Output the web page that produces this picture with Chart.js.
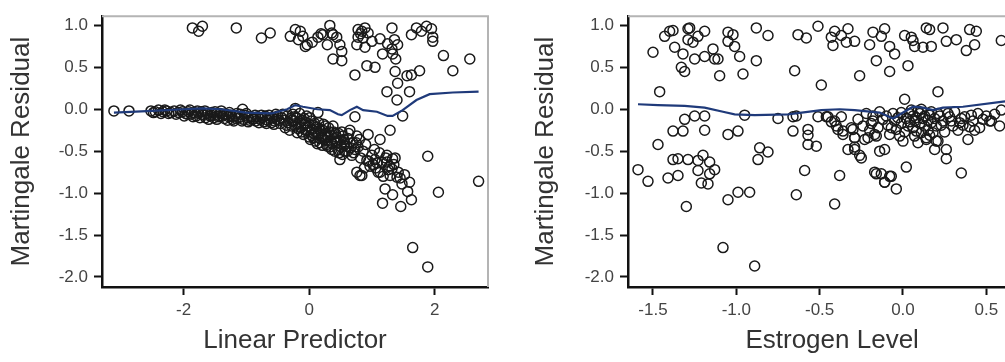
<!DOCTYPE html>
<html>
<head>
<meta charset="utf-8">
<script src="https://cdn.jsdelivr.net/npm/chart.js@4/dist/chart.umd.min.js"></script>
<style>
  html, body { margin: 0; padding: 0; background: #fff; overflow: hidden; width: 1005px; height: 362px; }
  .panel { position: absolute; top: 0; height: 362px; }
  #panelL { left: 0; width: 500px; }
  #panelR { left: 500px; width: 560px; }
</style>
</head>
<body>
<div class="panel" id="panelL"><canvas id="chartL" width="500" height="362"></canvas></div>
<div class="panel" id="panelR"><canvas id="chartR" width="560" height="362"></canvas></div>
<script>
// ---- Martingale residuals vs. the Cox linear predictor ----
const predictorPoints = [
  // flat band at low predictor values
  [-3.11,-0.02],[-2.87,-0.02],[-2.52,-0.02],[-2.45,-0.03],[-2.40,-0.01],[-2.33,-0.03],[-2.27,-0.02],[-2.20,-0.04],
  [-2.15,-0.02],[-2.08,-0.04],[-2.02,-0.03],[-1.97,-0.05],[-1.92,-0.03],[-1.88,-0.06],[-1.83,-0.04],[-1.80,-0.08],
  [-1.76,-0.05],[-1.72,-0.03],[-1.68,-0.07],[-1.65,-0.10],[-1.62,-0.05],[-1.58,-0.08],[-1.55,-0.04],[-1.52,-0.10],
  [-1.48,-0.06],[-1.45,-0.09],[-1.42,-0.05],[-1.38,-0.08],[-1.35,-0.11],[-1.32,-0.06],[-1.28,-0.09],[-1.25,-0.07],
  [-1.22,-0.12],[-1.18,-0.08],[-1.15,-0.05],[-1.12,-0.10],[-1.06,0.00],[-1.05,-0.12],[-1.02,-0.07],[-0.98,-0.10],
  [-0.95,-0.13],[-0.92,-0.09],[-0.88,-0.11],[-0.85,-0.14],[-0.82,-0.09],[-0.78,-0.12],[-0.75,-0.10],[-0.72,-0.15],
  [-0.70,-0.08],[-0.66,-0.13],[-0.63,-0.11],[-0.60,-0.16],[-0.58,-0.10],[-0.55,-0.14],[-0.52,-0.12],
  [-2.48,-0.04],[-2.36,-0.05],[-2.30,-0.01],[-2.24,-0.05],[-2.12,-0.06],[-2.05,-0.01],[-1.99,-0.08],[-1.94,-0.06],
  [-1.90,-0.01],[-1.85,-0.09],[-1.78,-0.02],[-1.74,-0.10],[-1.70,-0.06],[-1.66,-0.02],[-1.60,-0.12],[-1.56,-0.07],
  [-1.50,-0.03],[-1.47,-0.12],[-1.43,-0.08],[-1.40,-0.02],[-1.36,-0.06],[-1.30,-0.13],[-1.27,-0.04],[-1.23,-0.09],
  [-1.20,-0.14],[-1.16,-0.11],[-1.10,-0.06],[-1.07,-0.14],[-1.00,-0.05],[-0.97,-0.15],[-0.90,-0.12],[-0.86,-0.07],
  [-0.80,-0.16],[-0.76,-0.07],[-0.68,-0.17],[-0.64,-0.07],[-0.56,-0.18],[-0.53,-0.06],
  // descending band
  [-0.50,-0.08],[-0.46,-0.17],[-0.44,-0.10],[-0.40,-0.13],[-0.38,-0.22],[-0.35,-0.08],[-0.33,-0.16],[-0.30,-0.11],
  [-0.28,-0.20],[-0.26,-0.06],[-0.24,-0.14],[-0.22,0.01],[-0.22,-0.20],[-0.20,-0.10],[-0.19,-0.28],[-0.17,-0.17],
  [-0.15,-0.05],[-0.13,-0.22],[-0.11,-0.13],[-0.09,-0.30],[-0.07,-0.18],[-0.06,-0.25],[-0.04,-0.08],[-0.02,-0.20],
  [0.00,-0.33],[0.02,-0.36],[0.03,-0.14],[0.05,-0.24],[0.06,-0.19],[0.08,-0.29],[0.10,-0.38],[0.12,-0.21],
  [0.14,-0.04],[0.14,-0.30],[0.15,-0.16],[0.17,-0.40],[0.19,-0.26],[0.20,-0.33],[0.22,-0.25],[0.24,-0.36],
  [0.26,-0.20],[0.28,-0.42],[0.29,-0.44],[0.30,-0.32],[0.32,-0.27],[0.34,-0.38],[0.36,-0.48],[0.38,-0.20],
  [0.40,-0.35],[0.42,-0.29],[0.44,-0.40],[0.46,-0.48],[0.48,-0.52],[0.49,-0.60],[0.50,-0.37],[0.52,-0.27],
  [0.54,-0.32],[0.56,-0.43],[0.58,-0.50],[0.60,-0.44],[0.62,-0.35],[0.65,-0.25],[0.68,-0.55],[0.70,-0.40],
  [0.73,-0.48],[0.73,-0.09],[0.76,-0.32],[0.78,-0.45],[0.82,-0.58],[0.86,-0.50],[0.90,-0.42],[0.94,-0.30],
  [-0.48,-0.13],[-0.42,-0.06],[-0.36,-0.19],[-0.31,-0.25],[-0.27,-0.13],[-0.23,-0.09],[-0.18,-0.23],[-0.14,-0.15],
  [-0.12,-0.27],[-0.08,-0.11],[-0.05,-0.16],[-0.01,-0.27],[0.01,-0.10],[0.04,-0.31],[0.07,-0.34],[0.09,-0.17],
  [0.11,-0.27],[0.13,-0.41],[0.16,-0.23],[0.18,-0.35],[0.21,-0.43],[0.23,-0.18],[0.25,-0.30],[0.27,-0.37],
  [0.31,-0.22],[0.33,-0.45],[0.35,-0.31],[0.37,-0.41],[0.39,-0.27],[0.41,-0.50],[0.43,-0.33],[0.45,-0.38],
  [0.47,-0.29],[0.51,-0.45],[0.53,-0.54],[0.55,-0.36],[0.57,-0.41],[0.61,-0.50],[0.63,-0.29],[0.66,-0.46],
  [0.71,-0.52],[0.75,-0.40],[0.80,-0.36],
  [0.76,-0.75],[0.81,-0.79],[0.84,-0.79],[0.88,-0.70],[0.92,-0.61],[0.95,-0.62],[0.97,-0.68],[1.00,-0.55],
  [1.02,-0.66],[1.04,-0.48],[1.05,-0.60],[1.06,-0.70],[1.08,-0.64],[1.10,-0.75],[1.12,-0.52],[1.13,-0.36],
  [1.13,-0.75],[1.16,-0.63],[1.18,-0.80],[1.22,-0.58],[1.24,-0.55],[1.24,-0.63],[1.26,-0.72],[1.28,-0.68],
  [1.29,-0.25],[1.29,-0.79],[1.32,-0.71],[1.33,-0.59],[1.35,-0.66],[1.37,-0.58],[1.40,-0.81],[1.42,-0.75],
  [1.45,-0.82],[1.48,-0.89],[1.52,-0.78],[1.60,-0.87],[1.21,-0.95],[1.33,-1.02],[1.57,-0.98],[1.17,-1.12],
  [1.46,-1.16],[1.63,-1.08],[1.49,-0.08],[1.89,-0.56],[2.06,-0.99],[2.70,-0.86],[1.65,-1.65],[1.89,-1.88],
  // positive residuals
  [-1.86,0.97],[-1.70,0.99],[-1.76,0.93],[-1.16,0.97],[-0.76,0.85],[-0.62,0.91],[-0.30,0.87],[-0.22,0.95],
  [-0.14,0.93],[-0.17,0.83],[-0.10,0.87],[-0.06,0.75],[-0.03,0.77],[0.05,0.80],[0.14,0.86],[0.19,0.90],
  [0.22,0.89],[0.29,0.77],[0.33,1.00],[0.36,0.91],[0.38,0.89],[0.44,0.86],[0.49,0.77],[0.52,0.69],
  [0.38,0.60],[0.52,0.58],[0.73,0.41],[0.78,0.95],[0.84,0.93],[0.89,0.97],[0.94,0.91],[0.78,0.86],
  [0.76,0.77],[0.89,0.74],[1.00,0.81],[0.92,0.52],[1.05,0.50],[1.13,0.84],[1.17,0.66],[1.25,0.78],
  [1.32,0.97],[1.32,0.72],[1.38,0.60],[1.37,0.45],[1.41,0.31],[1.24,0.21],[1.40,0.11],[1.41,0.77],
  [1.33,0.66],[1.56,0.40],[1.63,0.41],[1.60,0.21],[1.76,0.46],[1.63,0.89],[1.71,0.97],[1.79,0.93],
  [1.87,0.99],[1.95,0.96],[1.97,0.86],[1.97,0.81],[2.14,0.64],[2.29,0.46],[2.56,0.60],[0.82,0.90],
  [0.86,0.85],[1.36,0.83]
];
const predictorSmoothX = [-3.11,-2.50,-2.00,-1.70,-1.40,-1.00,-0.60,-0.35,-0.22,-0.10,0.13,0.33,0.46,0.52,0.65,0.76,0.86,1.08,1.25,1.33,1.49,1.71,1.92,2.29,2.70];
const predictorSmoothY = [-0.04,-0.02,0.00,0.01,0.00,-0.04,-0.05,0.00,0.05,0.03,0.00,-0.01,-0.06,-0.07,-0.01,0.03,-0.01,-0.03,-0.08,-0.08,-0.01,0.11,0.18,0.20,0.21];
const predictorTicks = [-2, 0, 2];
const predictorTickLabels = ['-2', '0', '2'];

// ---- Martingale residuals vs. estrogen level ----
const estrogenPoints = [
  // positive residuals
  [-1.50,0.68],[-1.43,0.87],[-1.40,0.93],[-1.38,0.94],[-1.37,0.74],[-1.32,0.66],[-1.33,0.50],[-1.31,0.45],
  [-1.29,0.96],[-1.28,0.97],[-1.29,0.83],[-1.26,0.80],[-1.23,0.87],[-1.25,0.60],[-1.19,0.93],[-1.19,0.63],
  [-1.14,0.72],[-1.13,0.60],[-1.11,0.60],[-1.10,0.40],[-1.05,0.92],[-1.02,0.89],[-1.05,0.81],[-1.01,0.75],
  [-0.98,0.63],[-0.96,0.42],[-0.88,0.97],[-0.88,0.58],[-1.46,0.21],[-0.81,0.88],[-0.63,0.89],[-0.58,0.85],
  [-0.51,0.99],[-0.43,0.86],[-0.41,0.93],[-0.42,0.76],[-0.37,0.88],[-0.33,0.96],[-0.34,0.80],[-0.29,0.81],
  [-0.20,0.77],[-0.18,0.92],[-0.16,0.58],[-0.65,0.46],[-0.49,0.29],[-0.26,0.40],[-0.11,0.96],[-0.13,0.87],
  [-0.08,0.75],[-0.05,0.66],[0.01,0.88],[0.05,0.86],[0.07,0.75],[0.06,0.82],[0.12,0.74],[0.14,0.97],
  [0.16,0.95],[0.17,0.75],[0.24,0.97],[0.26,0.81],[0.32,0.83],[0.38,0.70],[0.40,0.95],[0.44,0.93],
  [0.43,0.77],[0.59,0.82],[0.03,0.52],[-0.08,0.45],[0.21,0.21],[0.01,0.12],
  // negative residuals, low estrogen
  [-1.59,-0.72],[-1.53,-0.86],[-1.47,-0.42],[-1.41,-0.82],[-1.35,-0.79],[-1.38,-0.26],[-1.32,-0.26],[-1.31,-0.12],
  [-1.25,-0.08],[-1.19,-0.08],[-1.19,-0.25],[-1.38,-0.60],[-1.35,-0.59],[-1.29,-0.60],[-1.23,-0.61],[-1.20,-0.55],
  [-1.23,-0.73],[-1.16,-0.63],[-1.13,-0.72],[-1.16,-0.77],[-1.21,-0.88],[-1.17,-0.89],[-1.30,-1.16],[-1.08,-1.65],
  [-0.89,-1.87],[-1.05,-0.30],[-0.99,-0.26],[-0.95,-0.07],[-1.05,-1.08],[-0.99,-0.99],[-0.92,-0.99],[-0.86,-0.46],
  [-0.81,-0.51],[-0.87,-0.60],
  // negative residuals, mid and high estrogen
  [-0.75,-0.11],[-0.66,-0.09],[-0.64,-0.08],[-0.51,-0.09],[-0.46,-0.09],[-0.43,-0.15],[-0.40,-0.20],[-0.37,-0.09],
  [-0.36,-0.26],[-0.31,-0.22],[-0.29,-0.34],[-0.23,-0.36],[-0.20,-0.25],[-0.18,-0.08],[-0.17,-0.30],[-0.29,-0.45],
  [-0.33,-0.48],[-0.26,-0.55],[-0.25,-0.58],[-0.66,-0.26],[-0.57,-0.24],[-0.57,-0.31],[-0.57,-0.42],[-0.52,-0.44],
  [-0.59,-0.73],[-0.38,-0.79],[-0.64,-1.02],[-0.41,-1.13],[-0.17,-0.75],[-0.16,-0.77],[-0.11,-0.87],[-0.07,-0.80],
  [-0.04,-0.95],[0.02,-0.69],[0.35,-0.76],
  [-0.45,-0.09],[-0.41,-0.14],[-0.39,-0.24],[-0.36,-0.30],[-0.30,-0.24],[-0.29,-0.34],[-0.29,-0.48],[-0.22,-0.05],
  [-0.21,-0.34],[-0.18,-0.14],[-0.16,-0.32],[-0.14,-0.03],[-0.14,-0.50],[-0.11,-0.48],[-0.10,-0.08],[-0.09,-0.19],
  [-0.08,-0.30],[-0.06,-0.05],[-0.05,-0.14],[-0.04,-0.24],[-0.02,-0.32],[0.00,-0.38],[0.02,-0.11],[0.03,-0.20],
  [0.05,-0.01],[0.06,-0.08],[0.07,-0.14],[0.08,-0.26],[0.09,-0.40],[0.10,-0.05],[0.12,-0.11],[0.13,-0.20],
  [0.14,-0.34],[0.16,-0.07],[0.17,-0.16],[0.18,-0.28],[0.19,-0.48],[0.20,-0.38],[0.22,-0.08],[0.23,-0.19],
  [0.26,-0.48],[0.26,-0.59],[0.27,-0.05],[0.29,-0.14],[0.33,-0.25],[0.35,-0.11],[0.36,-0.19],[0.39,-0.36],
  [0.41,-0.07],[0.43,-0.25],[0.45,-0.05],[0.46,-0.22],[0.50,-0.08],[0.52,-0.14],[0.53,-0.14],[0.58,-0.20],
  [0.59,-0.01],[-0.11,-0.87],[-0.13,-0.77],[-0.08,-0.80],[0.21,-0.38],[0.14,-0.36],
  [-0.27,-0.12],[-0.24,-0.20],[-0.19,-0.17],[-0.15,-0.22],[-0.12,-0.12],[-0.07,-0.22],[-0.03,-0.10],[-0.01,-0.17],
  [0.01,-0.27],[0.04,-0.05],[0.04,-0.15],[0.06,-0.22],[0.08,-0.10],[0.09,-0.02],[0.10,-0.17],[0.11,-0.28],
  [0.13,-0.08],[0.15,-0.13],[0.15,-0.25],[0.17,-0.03],[0.19,-0.11],[0.20,-0.20],[0.21,-0.05],[0.24,-0.14],
  [0.25,-0.27],[0.28,-0.09],[0.30,-0.20],[0.31,-0.03],[0.34,-0.16],[0.37,-0.09],[0.40,-0.21],[0.42,-0.14],
  [0.48,-0.12],[0.55,-0.06],[0.11,0.00],[-0.01,-0.04],[0.07,-0.32],[0.16,-0.31]
];
const estrogenSmoothX = [-1.59,-1.47,-1.31,-1.19,-1.08,-1.01,-0.89,-0.69,-0.49,-0.38,-0.29,-0.14,-0.06,0.06,0.12,0.18,0.24,0.36,0.60,0.75];
const estrogenSmoothY = [0.06,0.05,0.04,0.02,-0.03,-0.06,-0.07,-0.06,-0.01,0.00,-0.01,-0.04,-0.11,0.03,0.02,-0.01,0.02,0.03,0.09,0.12];
const estrogenTicks = [-1.5, -1.0, -0.5, 0.0, 0.5];
const estrogenTickLabels = ['-1.5', '-1.0', '-0.5', '0.0', '0.5'];

// ---- shared residual axis ----
const residualTicks = [1.0, 0.5, 0.0, -0.5, -1.0, -1.5, -2.0];
const residualTickLabels = ['1.0', '0.5', '0.0', '-0.5', '-1.0', '-1.5', '-2.0'];

const FONT = "'Liberation Sans', Arial, Helvetica, sans-serif";

// thin grey frame on the top and right of the plotting area
const frameLines = {
  id: 'frameLines',
  beforeDatasetsDraw(chart) {
    const { ctx, chartArea: a } = chart;
    ctx.save();
    ctx.strokeStyle = '#b4b4b4';
    ctx.lineWidth = 2;
    ctx.beginPath();
    ctx.moveTo(a.left, a.top);
    ctx.lineTo(a.right, a.top);
    ctx.lineTo(a.right, a.bottom);
    ctx.stroke();
    ctx.restore();
  }
};

function residualPanel(canvasId, cfg) {
  const pts = cfg.points.map(([x, y]) => ({ x, y }));
  const smooth = cfg.smoothX.map((x, i) => ({ x, y: cfg.smoothY[i] }));
  return new Chart(document.getElementById(canvasId), {
    type: 'scatter',
    data: {
      datasets: [
        {
          data: smooth, showLine: true, order: 0,
          borderColor: '#1f3a7a', borderWidth: 2.2, pointRadius: 0, tension: 0, fill: false
        },
        {
          data: pts, order: 1,
          pointRadius: 5, pointBorderWidth: 1.5,
          pointBorderColor: '#1a1a1a', pointBackgroundColor: 'rgba(0,0,0,0)'
        }
      ]
    },
    options: {
      responsive: false, animation: false, devicePixelRatio: 1,
      layout: { padding: { top: 12, right: cfg.rightPad, left: 0, bottom: 0 } },
      plugins: { legend: { display: false }, tooltip: { enabled: false } },
      scales: {
        x: {
          type: 'linear', min: cfg.xMin, max: cfg.xMax,
          afterBuildTicks: s => { s.ticks = cfg.xTicks.map(v => ({ value: v })); },
          afterFit: s => { s.height = 75; },
          border: { display: true, color: '#111', width: 2.5 },
          grid: { display: true, drawOnChartArea: false, drawTicks: true, tickLength: 8, tickWidth: 2, tickColor: '#111' },
          ticks: {
            color: '#444', padding: 5, maxRotation: 0, autoSkip: false,
            font: { family: FONT, size: 17 },
            callback: (v, i) => cfg.xTickLabels[i]
          },
          title: {
            display: true, text: cfg.xTitle, color: '#333',
            font: { family: FONT, size: 26 }, padding: { top: 0, bottom: 6 }
          }
        },
        y: {
          type: 'linear', min: -2.12, max: 1.11,
          afterBuildTicks: s => { s.ticks = residualTicks.map(v => ({ value: v })); },
          afterFit: s => { s.width = cfg.yAxisWidth; },
          border: { display: true, color: '#111', width: 2.5 },
          grid: { display: true, drawOnChartArea: false, drawTicks: true, tickLength: 8, tickWidth: 2, tickColor: '#111' },
          ticks: {
            color: '#444', padding: 6, autoSkip: false,
            font: { family: FONT, size: 17 },
            callback: (v, i) => residualTickLabels[i]
          },
          title: {
            display: true, text: 'Martingale Residual', color: '#333',
            font: { family: FONT, size: 26 }, padding: { top: cfg.yTitlePad, bottom: 0 }
          }
        }
      }
    },
    plugins: [frameLines]
  });
}

residualPanel('chartL', {
  points: predictorPoints, smoothX: predictorSmoothX, smoothY: predictorSmoothY,
  xTicks: predictorTicks, xTickLabels: predictorTickLabels,
  xMin: -3.3, xMax: 2.85, xTitle: 'Linear Predictor',
  yAxisWidth: 102, rightPad: 12, yTitlePad: 6
});

residualPanel('chartR', {
  points: estrogenPoints, smoothX: estrogenSmoothX, smoothY: estrogenSmoothY,
  xTicks: estrogenTicks, xTickLabels: estrogenTickLabels,
  xMin: -1.65, xMax: 0.8, xTitle: 'Estrogen Level',
  yAxisWidth: 128, rightPad: 23.7, yTitlePad: 30
});
</script>
</body>
</html>
